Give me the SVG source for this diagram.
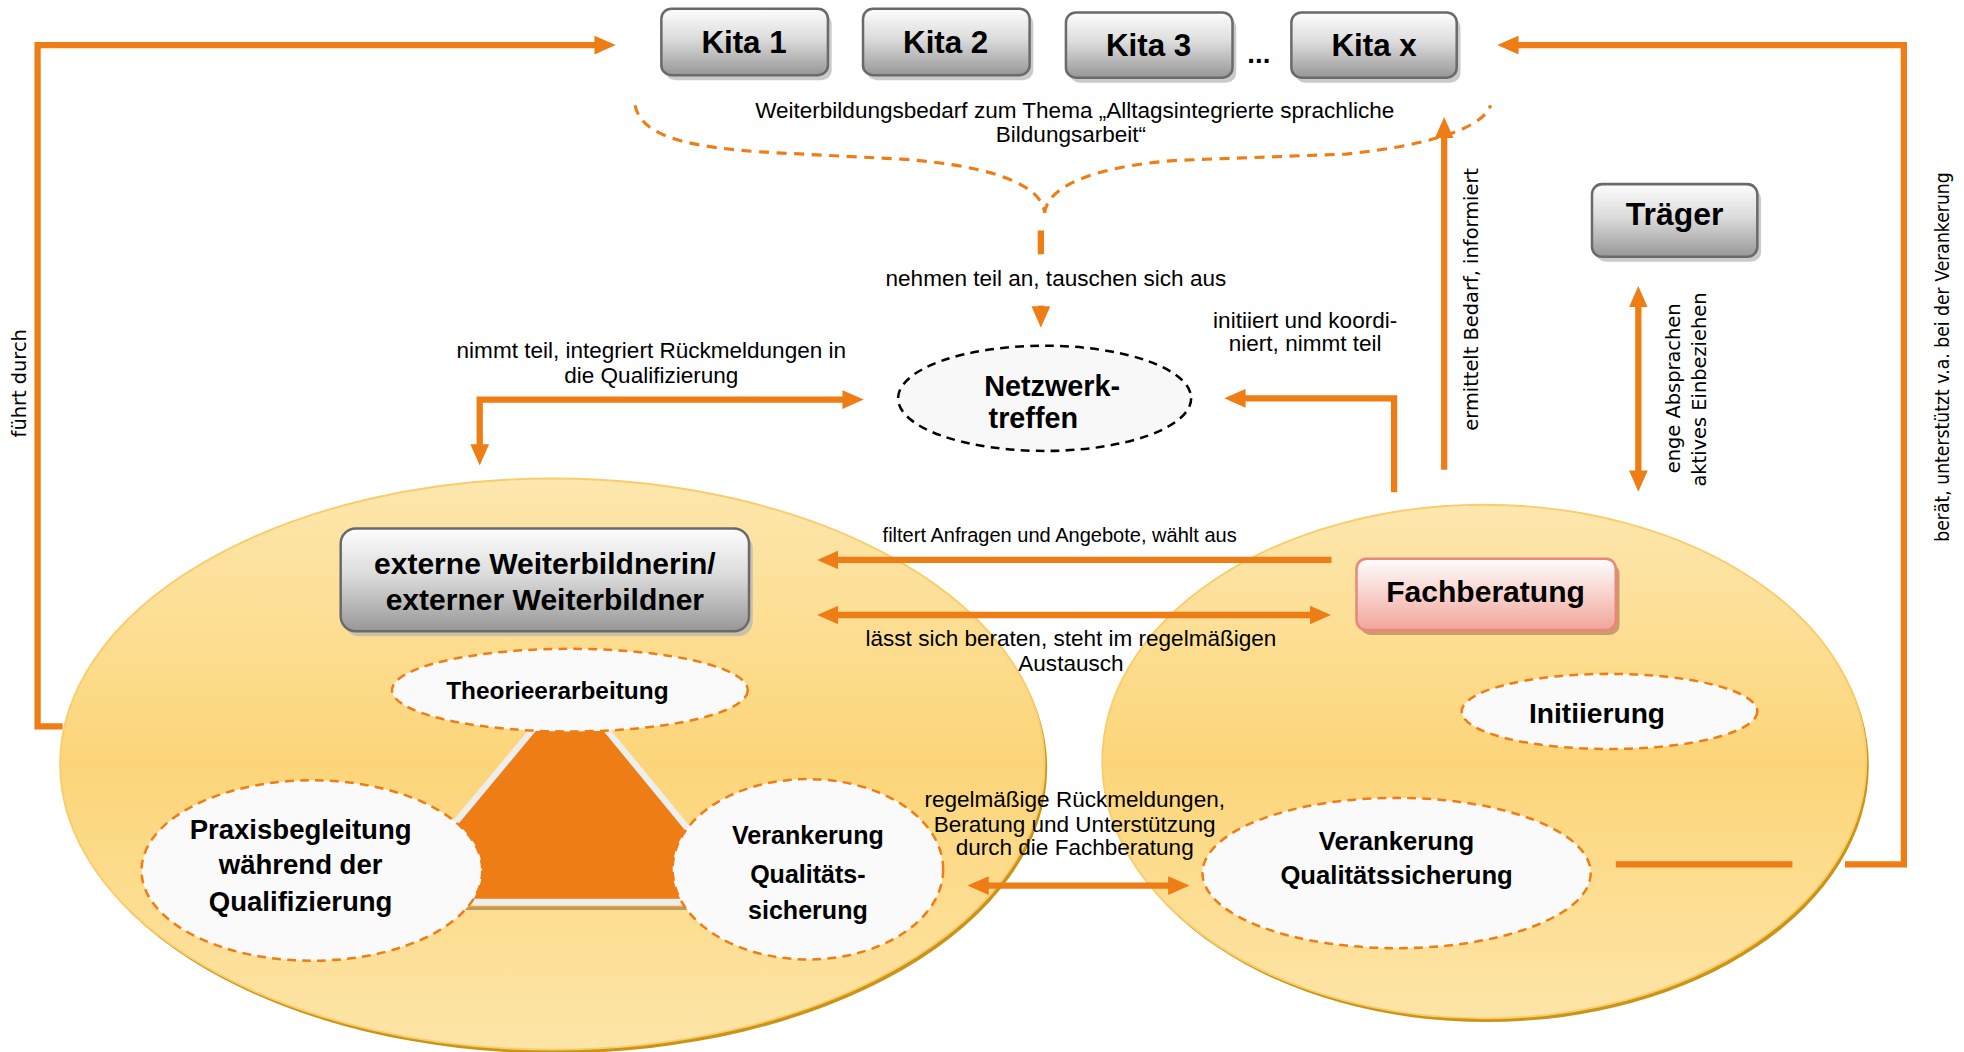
<svg xmlns="http://www.w3.org/2000/svg" width="1964" height="1052" viewBox="0 0 1964 1052">
<defs>
<linearGradient id="gray" x1="0" y1="0" x2="0" y2="1"><stop offset="0" stop-color="#fdfdfd"/><stop offset="0.45" stop-color="#dcdcdc"/><stop offset="1" stop-color="#979797"/></linearGradient>
<linearGradient id="pink" x1="0" y1="0" x2="0" y2="1"><stop offset="0" stop-color="#fefefe"/><stop offset="1" stop-color="#f2a59a"/></linearGradient>
<linearGradient id="yel" x1="0" y1="0" x2="0" y2="1"><stop offset="0" stop-color="#fde7ae"/><stop offset="0.5" stop-color="#fcd579"/><stop offset="1" stop-color="#fde5a8"/></linearGradient>
<marker id="ah" viewBox="0 0 10 10" refX="2" refY="5" markerWidth="3.4" markerHeight="3" preserveAspectRatio="none" orient="auto-start-reverse"><path d="M0,0 L10,5 L0,10 z" fill="#ee7d15"/></marker>
<style>
.con{fill:none;stroke:#ee7d15;stroke-width:5}
.dash{fill:none;stroke:#ee7d15;stroke-width:2.5;stroke-dasharray:8 6}
.box{fill:url(#gray);stroke:#6a6a6a;stroke-width:2}
.shd{fill:#b4b4b4;opacity:0.7}
.big{fill:url(#yel);stroke:#f8cd6a;stroke-width:1.5}
.bigs{fill:#c99418}
.sub{fill:#fafafa;stroke:#ee7d15;stroke-width:2;stroke-dasharray:7 5}
.b{font-family:"Liberation Sans",Arial,sans-serif;font-weight:bold;fill:#000;text-anchor:middle}
.t{font-family:"Liberation Sans",Arial,sans-serif;font-size:18px;fill:#000;text-anchor:middle}
.t.s{font-size:16px}
.r{font-family:"DejaVu Sans",sans-serif;font-size:15.5px;fill:#000;text-anchor:middle}
</style>
</defs>
<rect width="1964" height="1052" fill="#fff"/>
<g transform="scale(1.25255)">
<g id="left-area">
<ellipse class="bigs" cx="443" cy="613" rx="393" ry="228"/>
<ellipse class="big" cx="441" cy="610" rx="393" ry="228"/>
</g>
<g id="right-area">
<ellipse class="bigs" cx="1187" cy="611" rx="305" ry="205"/>
<ellipse class="big" cx="1185" cy="608" rx="305" ry="205"/>
</g>
<g id="triangle">
<polygon points="455,547 311,720 597,720" fill="#ee7d15" stroke="#eeeeee" stroke-width="5"/>
<line x1="311" y1="725" x2="597" y2="725" stroke="#c49a5a" stroke-width="3"/>
</g>
<g id="connectors">
<path class="con" d="M50,580 H30 V36 H478" marker-end="url(#ah)"/>
<path class="con" d="M1290,690 H1431"/>
<path class="con" d="M1473,690 H1520 V36 H1209" marker-end="url(#ah)"/>
<path class="con" d="M1153,375 V107" marker-end="url(#ah)"/>
<path class="con" d="M1308,242 V379" marker-start="url(#ah)" marker-end="url(#ah)"/>
<path class="con" d="M383,358 V319 H676" marker-start="url(#ah)" marker-end="url(#ah)"/>
<path class="con" d="M1113,393 V318 H991" marker-end="url(#ah)"/>
<path class="dash" d="M507,84 C512,108 545,118 620,122 L720,127 C800,133 832,150 834,170"/>
<path class="dash" d="M834,170 C836,150 870,133 940,128 L1075,123 C1150,115 1185,100 1190,84"/>
<path class="con" d="M831,184 V203"/>
<path class="con" d="M831,244 V248" marker-end="url(#ah)"/>
<path class="con" d="M1063,447 H666" marker-end="url(#ah)"/>
<path class="con" d="M666,491 H1049" marker-start="url(#ah)" marker-end="url(#ah)"/>
<path class="con" d="M786,707 H936" marker-start="url(#ah)" marker-end="url(#ah)"/>
</g>
<g id="kita1"><rect class="shd" x="531" y="11" width="133" height="53" rx="8"/><rect class="box" x="528" y="7" width="133" height="53" rx="8"/><text class="b" x="594" y="42" font-size="25">Kita 1</text></g>
<g id="kita2"><rect class="shd" x="692" y="11" width="133" height="53" rx="8"/><rect class="box" x="689" y="7" width="133" height="53" rx="8"/><text class="b" x="755" y="42" font-size="25">Kita 2</text></g>
<g id="kita3"><rect class="shd" x="854" y="14" width="133" height="52" rx="8"/><rect class="box" x="851" y="10" width="133" height="52" rx="8"/><text class="b" x="917" y="45" font-size="25">Kita 3</text></g>
<text class="b" x="1005" y="50" font-size="22">...</text>
<g id="kitax"><rect class="shd" x="1034" y="14" width="132" height="52" rx="8"/><rect class="box" x="1031" y="10" width="132" height="52" rx="8"/><text class="b" x="1097" y="45" font-size="25">Kita x</text></g>
<g id="traeger"><rect class="shd" x="1274" y="151" width="132" height="58" rx="8"/><rect class="box" x="1271" y="147" width="132" height="58" rx="8"/><text class="b" x="1337" y="180" font-size="25.5">Träger</text></g>
<g id="netzwerk"><ellipse cx="834" cy="318" rx="117" ry="42" fill="#f8f8f8" stroke="#000" stroke-width="2" stroke-dasharray="7 5"/><text class="b" x="840" y="316" font-size="23">Netzwerk-</text><text class="b" x="825" y="342" font-size="23">treffen</text></g>
<g id="extern"><rect class="shd" x="275" y="426" width="326" height="82" rx="12"/><rect class="box" x="272" y="422" width="326" height="82" rx="12"/><text class="b" x="435" y="458" font-size="24">externe Weiterbildnerin/</text><text class="b" x="435" y="487" font-size="24">externer Weiterbildner</text></g>
<g id="fachberatung"><rect x="1086" y="450" width="207" height="57" rx="8" fill="#c08860" opacity="0.8"/><rect x="1083" y="446" width="207" height="57" rx="8" fill="url(#pink)" stroke="#e8877a" stroke-width="2"/><text class="b" x="1186" y="481" font-size="24">Fachberatung</text></g>
<g id="theorie"><ellipse class="sub" cx="455" cy="551" rx="142" ry="33"/><text class="b" x="445" y="558" font-size="19.5">Theorieerarbeitung</text></g>
<g id="praxis"><ellipse class="sub" cx="249" cy="695" rx="136" ry="72"/><text class="b" x="240" y="670" font-size="22">Praxisbegleitung</text><text class="b" x="240" y="698" font-size="22">während der</text><text class="b" x="240" y="727" font-size="22">Qualifizierung</text></g>
<g id="verankerung-left"><ellipse class="sub" cx="645" cy="694" rx="108" ry="72"/><text class="b" x="645" y="674" font-size="20">Verankerung</text><text class="b" x="645" y="705" font-size="20">Qualitäts-</text><text class="b" x="645" y="734" font-size="20">sicherung</text></g>
<g id="initiierung"><ellipse class="sub" cx="1285" cy="568" rx="118" ry="30"/><text class="b" x="1275" y="577" font-size="22.5">Initiierung</text></g>
<g id="verankerung-right"><ellipse class="sub" cx="1115" cy="697" rx="155" ry="60"/><text class="b" x="1115" y="679" font-size="20.5">Verankerung</text><text class="b" x="1115" y="706" font-size="20.5">Qualitätssicherung</text></g>
<g id="labels">
<text class="t" x="858" y="94">Weiterbildungsbedarf zum Thema „Alltagsintegrierte sprachliche</text>
<text class="t" x="855" y="113">Bildungsarbeit“</text>
<text class="t" x="843" y="228">nehmen teil an, tauschen sich aus</text>
<text class="t" x="520" y="286">nimmt teil, integriert Rückmeldungen in</text>
<text class="t" x="520" y="306">die Qualifizierung</text>
<text class="t" x="1042" y="262">initiiert und koordi-</text>
<text class="t" x="1042" y="280">niert, nimmt teil</text>
<text class="t s" x="846" y="433">filtert Anfragen und Angebote, wählt aus</text>
<text class="t" x="855" y="516">lässt sich beraten, steht im regelmäßigen</text>
<text class="t" x="855" y="536">Austausch</text>
<text class="t" x="858" y="644">regelmäßige Rückmeldungen,</text>
<text class="t" x="858" y="664">Beratung und Unterstützung</text>
<text class="t" x="858" y="683">durch die Fachberatung</text>
<text class="r" x="21" y="306" transform="rotate(-90 21 306)">führt durch</text>
<text class="r" x="1180" y="239" transform="rotate(-90 1180 239)">ermittelt Bedarf, informiert</text>
<text class="r" x="1341" y="310" transform="rotate(-90 1341 310)">enge Absprachen</text>
<text class="r" x="1362" y="311" transform="rotate(-90 1362 311)">aktives Einbeziehen</text>
<text class="r" x="1556" y="285" transform="rotate(-90 1556 285)" textLength="295" lengthAdjust="spacingAndGlyphs">berät, unterstützt v.a. bei der Verankerung</text>
</g>
</g>
</svg>
